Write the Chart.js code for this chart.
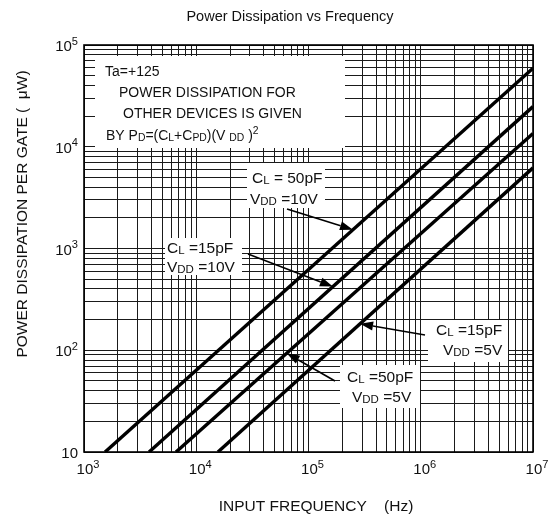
<!DOCTYPE html>
<html>
<head>
<title>Power Dissipation vs Frequency</title>
<script src="https://cdn.jsdelivr.net/npm/chart.js"></script>
<style>
    body { margin: 0; background: #fff; }
    #wrap { width: 557px; height: 519px; }
</style>
</head>
<body>
<div id="wrap"><canvas id="myChart" width="557" height="519"></canvas></div>
<script>
// each curve is a straight line on log-log paper: two end points
const freq50pF10V = [1540, 1e7];
const pwr50pF10V = [10, 59000];
const freq15pF10V = [3800, 1e7];
const pwr15pF10V = [10, 24800];
const freq50pF5V = [6600, 1e7];
const pwr50pF5V = [10, 13500];
const freq15pF5V = [15600, 1e7];
const pwr15pF5V = [10, 6200];

const xTicks = [1e3, 1e4, 1e5, 1e6, 1e7];
const xTickLabels = [['10', '3'], ['10', '4'], ['10', '5'], ['10', '6'], ['10', '7']];
const yTicks = [10, 1e2, 1e3, 1e4, 1e5];
const yTickLabels = [['10', ''], ['10', '2'], ['10', '3'], ['10', '4'], ['10', '5']];

const FONT = "'Liberation Sans', Arial, sans-serif";

// 1..9 per decade for the log paper grid
function logGrid(min, max) {
    const out = [];
    for (let d = min; d < max; d *= 10) {
        for (let m = 1; m < 10; m++) out.push(d * m);
    }
    out.push(max);
    return out;
}

function pts(fs, ps) {
    return fs.map((f, i) => ({ x: f, y: ps[i] }));
}

const lineStyle = {
    showLine: true,
    borderColor: '#000',
    backgroundColor: '#000',
    borderWidth: 3.4,
    pointRadius: 0,
    fill: false,
};

// rich text: segments of [text, kind], kind '' normal, 's' small subscript, '^' superscript
function drawRich(ctx, segs, x, y, size, align) {
    const small = size * 0.74;
    let w = 0;
    segs.forEach(s => {
        ctx.font = (s[1] ? small : size) + 'px ' + FONT;
        w += ctx.measureText(s[0]).width;
    });
    let cx = align === 'right' ? x - w : align === 'center' ? x - w / 2 : x;
    ctx.textAlign = 'left';
    ctx.textBaseline = 'alphabetic';
    segs.forEach(s => {
        ctx.font = (s[1] ? small : size) + 'px ' + FONT;
        let dy = 0;
        if (s[1] === 's') dy = 1;
        if (s[1] === '^') dy = -size * 0.42;
        ctx.fillText(s[0], cx, y + dy);
        cx += ctx.measureText(s[0]).width;
    });
}

// text boxes (pixel layout) and arrows pointing at a frequency on a curve
const notes = [
    { box: [95, 56, 345, 148], size: 14, lines: [
        { x: 105, y: 76, segs: [['Ta=+125', '']] },
        { x: 119, y: 97, segs: [['POWER DISSIPATION FOR', '']] },
        { x: 123, y: 118, segs: [['OTHER DEVICES IS GIVEN', '']] },
        { x: 106, y: 140, segs: [['BY P', ''], ['D', 's'], ['=(C', ''], ['L', 's'], ['+C', ''], ['PD', 's'], [')(V ', ''], ['DD', 's'], [' )', ''], ['2', '^']] },
    ] },
    { box: [247, 163, 325, 208], size: 15.5, lines: [
        { x: 252, y: 183, segs: [['C', ''], ['L', 's'], [' = 50pF', '']] },
        { x: 250, y: 204, segs: [['V', ''], ['DD', 's'], [' =10V', '']] },
    ], arrow: { from: [287, 209], series: 0, at: 2.49e5 } },
    { box: [165, 238, 242, 275], size: 15.5, lines: [
        { x: 167, y: 253, segs: [['C', ''], ['L', 's'], [' =15pF', '']] },
        { x: 167, y: 272, segs: [['V', ''], ['DD', 's'], [' =10V', '']] },
    ], arrow: { from: [248, 254], series: 1, at: 1.65e5 } },
    { box: [428, 320, 508, 362], size: 15.5, lines: [
        { x: 436, y: 335, segs: [['C', ''], ['L', 's'], [' =15pF', '']] },
        { x: 443, y: 355, segs: [['V', ''], ['DD', 's'], [' =5V', '']] },
    ], arrow: { from: [425, 335], series: 3, at: 2.88e5 } },
    { box: [340, 365, 420, 408], size: 15.5, lines: [
        { x: 347, y: 382, segs: [['C', ''], ['L', 's'], [' =50pF', '']] },
        { x: 352, y: 402, segs: [['V', ''], ['DD', 's'], [' =5V', '']] },
    ], arrow: { from: [335, 381], series: 2, at: 6.4e4 } },
];

// value of a curve at frequency f (straight line in log space)
function curveAt(ds, f) {
    const a = ds.data[0], b = ds.data[ds.data.length - 1];
    const t = (Math.log10(f) - Math.log10(a.x)) / (Math.log10(b.x) - Math.log10(a.x));
    return Math.pow(10, Math.log10(a.y) + t * (Math.log10(b.y) - Math.log10(a.y)));
}

const decor = {
    id: 'decor',
    beforeDatasetsDraw(chart) {
        const ctx = chart.ctx;
        ctx.save();
        ctx.fillStyle = '#fff';
        notes.forEach(n => {
            const b = n.box;
            ctx.fillRect(b[0], b[1], b[2] - b[0], b[3] - b[1]);
        });
        ctx.restore();
    },
    afterDatasetsDraw(chart) {
        const ctx = chart.ctx;
        const xs = chart.scales.x, ys = chart.scales.y;
        const area = chart.chartArea;
        ctx.save();
        ctx.strokeStyle = '#000';
        ctx.lineWidth = 1.6;
        ctx.strokeRect(area.left, area.top, area.right - area.left, area.bottom - area.top);

        ctx.fillStyle = '#111';
        notes.forEach(n => {
            n.lines.forEach(l => drawRich(ctx, l.segs, l.x, l.y, n.size, 'left'));
            if (n.arrow) {
                const ds = chart.data.datasets[n.arrow.series];
                const tx = xs.getPixelForValue(n.arrow.at);
                const ty = ys.getPixelForValue(curveAt(ds, n.arrow.at));
                const fx = n.arrow.from[0], fy = n.arrow.from[1];
                const ang = Math.atan2(ty - fy, tx - fx);
                const len = 13, hw = 4.5;
                const bx = tx - len * Math.cos(ang), by = ty - len * Math.sin(ang);
                ctx.strokeStyle = '#000';
                ctx.lineWidth = 1.6;
                ctx.beginPath();
                ctx.moveTo(fx, fy);
                ctx.lineTo(bx, by);
                ctx.stroke();
                ctx.beginPath();
                ctx.moveTo(tx, ty);
                ctx.lineTo(bx + hw * Math.sin(ang), by - hw * Math.cos(ang));
                ctx.lineTo(bx - hw * Math.sin(ang), by + hw * Math.cos(ang));
                ctx.closePath();
                ctx.fillStyle = '#000';
                ctx.fill();
                ctx.fillStyle = '#111';
            }
        });

        // tick labels with superscript exponents
        xTicks.forEach((v, i) => {
            const px = xs.getPixelForValue(v);
            drawRich(ctx, [[xTickLabels[i][0], ''], [xTickLabels[i][1], '^']], px + 4, 474, 15, 'center');
        });
        yTicks.forEach((v, i) => {
            const py = ys.getPixelForValue(v);
            const segs = [[yTickLabels[i][0], '']];
            if (yTickLabels[i][1]) segs.push([yTickLabels[i][1], '^']);
            drawRich(ctx, segs, 78, py + 6, 15, 'right');
        });

        // titles
        ctx.textAlign = 'center';
        ctx.textBaseline = 'alphabetic';
        ctx.font = '14.5px ' + FONT;
        ctx.fillText('Power Dissipation vs Frequency', 290, 21);
        ctx.font = '15.5px ' + FONT;
        ctx.fillText('INPUT FREQUENCY    (Hz)', 316, 511);
        ctx.translate(27, 214);
        ctx.rotate(-Math.PI / 2);
        ctx.fillText('POWER DISSIPATION PER GATE (  μW)', 0, 0);
        ctx.restore();
    }
};

const gridOpts = {
    color: '#1a1a1a',
    lineWidth: 1,
    drawTicks: false,
};

new Chart(document.getElementById('myChart'), {
    type: 'scatter',
    data: {
        datasets: [
            { label: 'CL=50pF VDD=10V', data: pts(freq50pF10V, pwr50pF10V), ...lineStyle },
            { label: 'CL=15pF VDD=10V', data: pts(freq15pF10V, pwr15pF10V), ...lineStyle },
            { label: 'CL=50pF VDD=5V', data: pts(freq50pF5V, pwr50pF5V), ...lineStyle },
            { label: 'CL=15pF VDD=5V', data: pts(freq15pF5V, pwr15pF5V), ...lineStyle },
        ]
    },
    options: {
        responsive: false,
        animation: false,
        devicePixelRatio: 1,
        layout: { padding: { left: 84, top: 45, right: 24, bottom: 67 } },
        scales: {
            x: {
                type: 'logarithmic',
                min: 1e3,
                max: 1e7,
                afterBuildTicks: s => { s.ticks = logGrid(1e3, 1e7).map(v => ({ value: v })); },
                ticks: { display: false },
                grid: gridOpts,
                border: { display: false },
            },
            y: {
                type: 'logarithmic',
                min: 10,
                max: 1e5,
                afterBuildTicks: s => { s.ticks = logGrid(10, 1e5).map(v => ({ value: v })); },
                ticks: { display: false },
                grid: gridOpts,
                border: { display: false },
            }
        },
        plugins: {
            legend: { display: false },
            tooltip: { enabled: false },
        }
    },
    plugins: [decor]
});
</script>
</body>
</html>
